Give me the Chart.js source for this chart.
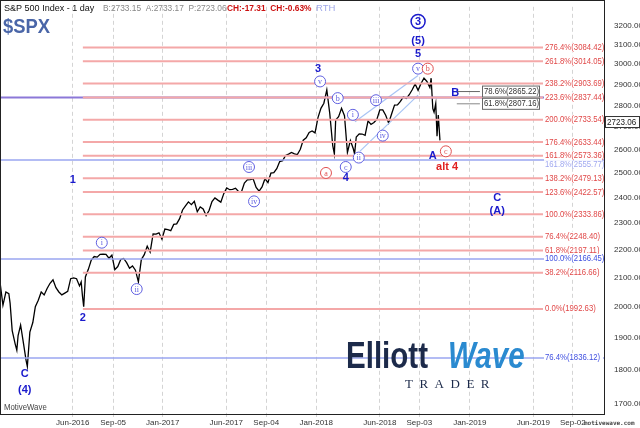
<!DOCTYPE html>
<html>
<head>
<meta charset="utf-8">
<script src="https://cdn.jsdelivr.net/npm/chart.js@4"></script>
<style>
html,body{margin:0;padding:0;background:#fff;}
#wrap{width:640px;height:428px;position:relative;}
</style>
</head>
<body>
<div id="wrap"><canvas id="spxChart" width="640" height="428"></canvas></div>
<script>
// days since 2016-01-01, daily close (sampled)
const days = [-20,-14,-7,0,3,8,15,19,22,28,35,41,44,50,57,63,70,77,84,91,98,105,112,119,126,133,140,147,154,161,168,172,175,178,182,189,196,203,210,217,224,231,238,245,252,259,266,273,280,287,294,301,308,315,322,329,336,343,350,357,364,
371,378,385,392,399,406,413,420,427,434,441,448,455,462,469,476,483,490,497,504,511,518,525,532,539,546,553,560,567,574,581,588,595,602,609,616,623,630,637,644,651,658,665,672,679,686,693,700,707,714,721,728,
735,742,749,756,763,770,774,777,784,791,798,805,812,819,822,826,833,840,847,854,861,868,875,882,889,896,903,910,917,924,931,938,945,952,959,966,973,980,987,994,1001,1004,1008,1011,1015,1018,1021,1025];
const closes = [2073,2005,2050,2044,2012,1922,1880,1860,1906,1940,1880,1829,1810,1917,1948,2000,2022,2050,2040,2062,2080,2092,2065,2050,2040,2046,2052,2096,2099,2096,2071,2085,2037,2000,2102,2129,2162,2175,2173,2183,2184,2183,2169,2180,2128,2139,2164,2168,2153,2133,2141,2126,2085,2164,2182,2213,2191,2259,2258,2263,2239,
2277,2275,2271,2295,2297,2317,2351,2367,2383,2372,2385,2344,2363,2355,2329,2349,2384,2399,2390,2382,2416,2439,2432,2433,2438,2425,2423,2459,2472,2473,2476,2441,2426,2443,2477,2461,2500,2502,2519,2549,2553,2575,2581,2588,2582,2579,2602,2642,2652,2676,2683,2674,
2743,2786,2810,2873,2762,2619,2581,2732,2747,2786,2752,2588,2640,2604,2582,2656,2670,2669,2663,2728,2712,2721,2735,2779,2779,2754,2718,2760,2801,2802,2819,2840,2833,2850,2874,2902,2871,2904,2930,2914,2885,2930,2785,2768,2809,2659,2755,2641,2723];

const fibPct = ["276.4%","261.8%","238.2%","223.6%","200.0%","176.4%","161.8%","138.2%","123.6%","100.0%","76.4%","61.8%","38.2%","0.0%"];
const fibVals = [3084.42,3014.05,2903.69,2837.44,2733.54,2633.44,2573.36,2479.13,2422.57,2333.86,2248.40,2197.11,2116.66,1992.63];
const blueVals = [2837.44,2555.77,2166.45,1836.12];
const bluePct = ["","161.8%","100.0%","76.4%"];

const tickDays = [152,248,366,517,612,731,882,976,1096,1247,1341];
const tickNames = ["Jun-2016","Sep-05","Jan-2017","Jun-2017","Sep-04","Jan-2018","Jun-2018","Sep-03","Jan-2019","Jun-2019","Sep-02"];
const priceTicks = [1700,1800,1900,2000,2100,2200,2300,2400,2500,2600,2700,2800,2900,3000,3100,3200];

// wave labels: text, day, price, color, style (b=bold, c=circle)
const waveLabels = [
  ["C",38,1789,"#1a1acc","b"],["(4)",38,1740,"#1a1acc","b"],
  ["1",152,2473,"#1a1acc","b"],["2",176,1964,"#1a1acc","b"],
  ["i",221,2226,"#6060e0","c"],["ii",304,2060,"#6060e0","c"],
  ["iii",571,2526,"#6060e0","c"],["iv",583,2385,"#6060e0","c"],
  ["3",735,2977,"#1a1acc","b"],["v",740,2914,"#6060e0","c"],
  ["a",754,2501,"#e05050","c"],["b",782,2834,"#6060e0","c"],["c",801,2526,"#6060e0","c"],["4",801,2481,"#1a1acc","b"],
  ["i",818,2756,"#6060e0","c"],["ii",832,2566,"#6060e0","c"],["iii",873,2824,"#6060e0","c"],["iv",889,2662,"#6060e0","c"],
  ["v",973,2977,"#6060e0","c"],["b",996,2977,"#e05050","c"],
  ["5",973,3051,"#1a1acc","b"],["(5)",973,3117,"#1a1acc","b"],["3",973,3221,"#1a1acc","C"],
  ["A",1008,2572,"#1a1acc","b"],["c",1039,2593,"#e05050","c"],["alt 4",1042,2526,"#e02020","b"],
  ["B",1061,2857,"#1a1acc","b"],["C",1161,2400,"#1a1acc","b"],["(A)",1161,2349,"#1a1acc","b"]
];

const datasets = [];
fibVals.forEach(v => datasets.push({data:[{x:176,y:v},{x:1270,y:v}],borderColor:"#f4a8a8",borderWidth:2,pointRadius:0}));
blueVals.forEach((v,i) => datasets.push({data:[{x:-25,y:v},{x:1420,y:v}],borderColor:i==0?"#8c78d8":"#9aa6f0",borderWidth:i==0?2:1.5,pointRadius:0}));
datasets.push({data:[{x:823,y:2724},{x:973,y:2943}],borderColor:"#a8c4f4",borderWidth:1.2,pointRadius:0});
datasets.push({data:[{x:835,y:2594},{x:973,y:2848}],borderColor:"#a8c4f4",borderWidth:1.2,pointRadius:0});
datasets.push({data:[{x:1065,y:2865.22},{x:1120,y:2865.22}],borderColor:"#666",borderWidth:1,pointRadius:0});
datasets.push({data:[{x:1065,y:2807.16},{x:1120,y:2807.16}],borderColor:"#888",borderWidth:1,pointRadius:0});
datasets.push({data:days.map((d,i)=>({x:d,y:closes[i]})),borderColor:"#000",borderWidth:1.3,pointRadius:0,tension:0});

const SANS = "'Liberation Sans',Arial,sans-serif";

function narrowText(c,t,x,y,sx){
  c.save(); c.translate(x,y); c.scale(sx,1); c.fillText(t,0,0); c.restore();
}

const overlay = {
  id:"overlay",
  afterDatasetsDraw(chart){
    const c = chart.ctx, xs = chart.scales.x, ys = chart.scales.y, a = chart.chartArea;
    c.save();
    c.textBaseline = "middle";
    c.font = "9px " + SANS;
    c.textAlign = "left";
    fibVals.forEach((v,i)=>{
      const y = ys.getPixelForValue(v);
      c.fillStyle = "#fff"; c.fillRect(544,y-5,59,10);
      c.fillStyle = "#e04848"; narrowText(c,fibPct[i]+"("+v.toFixed(2)+")",545,y,0.86);
    });
    blueVals.forEach((v,i)=>{
      if(!bluePct[i]) return;
      const y = ys.getPixelForValue(v);
      if(i==1){ c.fillStyle = "#a0a8f0"; narrowText(c,bluePct[i]+"("+v.toFixed(2)+")",545,y+5,0.86); return; }
      c.fillStyle = "#fff"; c.fillRect(544,y-5,59,10);
      c.fillStyle = "#4050e0"; narrowText(c,bluePct[i]+"("+v.toFixed(2)+")",545,y,0.86);
    });
    // boxed retracement labels
    [["78.6%(2865.22)",2865.22],["61.8%(2807.16)",2807.16]].forEach(([t,v])=>{
      const y = ys.getPixelForValue(v);
      c.fillStyle="#fff"; c.fillRect(482,y-6,58,12);
      c.strokeStyle="#666"; c.lineWidth=1; c.strokeRect(482.5,y-5.5,57,11);
      c.fillStyle="#333"; narrowText(c,t,484,y,0.86);
    });
    // wave labels
    c.textAlign = "center";
    waveLabels.forEach(([t,d,p,col,st])=>{
      const x = xs.getPixelForValue(d), y = ys.getPixelForValue(p);
      c.fillStyle = col; c.strokeStyle = col;
      if(st=="c"){
        c.fillStyle="#fff"; c.beginPath(); c.arc(x,y,5.5,0,Math.PI*2); c.fill();
        c.fillStyle=col; c.lineWidth=1; c.stroke();
        c.font = "8px 'Liberation Serif'"; c.fillText(t,x,y+0.5);
      } else if(st=="C"){
        c.lineWidth=1.5; c.beginPath(); c.arc(x,y,7,0,Math.PI*2); c.stroke();
        c.font = "bold 11px " + SANS; c.fillText(t,x,y+0.5);
      } else {
        c.font = "bold 11px " + SANS; c.fillText(t,x,y);
      }
    });
    // frame
    c.strokeStyle="#222"; c.lineWidth=1;
    c.strokeRect(0.5,0.5,a.right,a.bottom);
    // price marker
    const py = ys.getPixelForValue(2723.06);
    c.fillStyle="#fff"; c.fillRect(605,py-6,35,12);
    c.strokeStyle="#333"; c.strokeRect(605.5,py-5.5,34,11);
    c.fillStyle="#222"; c.font="9px " + SANS; c.textAlign="left"; narrowText(c,"2723.06",607,py,0.9);
    // logo
    c.textAlign="left"; c.textBaseline="alphabetic";
    c.fillStyle="#1c2a4a"; c.font="bold 36px " + SANS; narrowText(c,"Elliott",346,368,0.82);
    c.fillStyle="#2a8ad0"; c.font="italic bold 36px " + SANS; narrowText(c,"Wave",448,368,0.82);
    c.fillStyle="#1c2a4a"; c.font="13px 'Liberation Serif'"; c.fillText("T  R  A  D  E  R",405,388);
    // header
    c.font="9.5px " + SANS; c.fillStyle="#111"; narrowText(c,"S&P 500 Index - 1 day",4,11,0.95);
    c.fillStyle="#888"; narrowText(c,"B:2733.15  A:2733.17  P:2723.06",103,11,0.88);
    c.fillStyle="#cc1010"; c.font="bold 9.5px " + SANS; narrowText(c,"CH:-17.31  CH:-0.63%",227,11,0.88);
    c.fillStyle="#a0a8e8"; c.font="9.5px " + SANS; c.fillText("RTH",316,11);
    c.fillStyle="#4a66a8"; c.font="bold 20px " + SANS; narrowText(c,"$SPX",3,33,0.92);
    c.fillStyle="#444"; c.font="8.5px " + SANS; narrowText(c,"MotiveWave",4,410,0.92);
    c.font="bold 6px 'DejaVu Sans Mono'"; c.fillText("motivewave.com",584,425);
    c.restore();
  }
};

new Chart(document.getElementById("spxChart"),{
  type:"line",
  data:{datasets:datasets},
  options:{
    responsive:false,animation:false,
    devicePixelRatio:1,
    layout:{padding:0},
    plugins:{legend:{display:false},tooltip:{enabled:false}},
    scales:{
      x:{
        type:"linear",min:-21,max:1415,
        afterBuildTicks(s){ s.ticks = tickDays.map(v=>({value:v})); },
        ticks:{autoSkip:false,maxRotation:0,padding:1,color:"#333",font:{size:8,family:"Liberation Sans"},
          callback:(v)=>tickNames[tickDays.indexOf(v)]},
        grid:{color:"#d4d4d4",tickLength:3},
        border:{color:"#333",dash:[4,3]},
        afterFit(s){ s.height = 14; }
      },
      y:{
        type:"logarithmic",position:"right",min:1672,max:3301,
        afterBuildTicks(s){ s.ticks = priceTicks.map(v=>({value:v})); },
        ticks:{autoSkip:false,color:"#333",padding:2,font:{size:8,family:"Liberation Sans"},
          callback:(v)=>v.toFixed(2)},
        grid:{display:false,drawTicks:true},
        border:{color:"#333"},
        afterFit(s){ s.width = 36; }
      }
    }
  },
  plugins:[overlay]
});
</script>
</body>
</html>
